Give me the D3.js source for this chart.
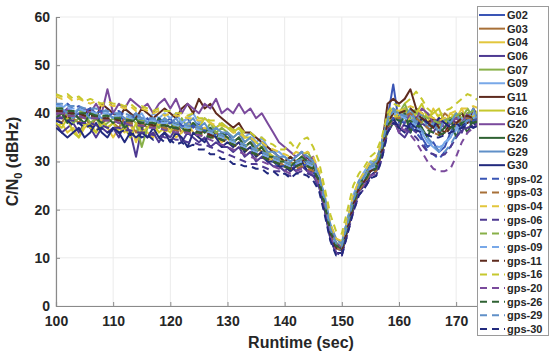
<!DOCTYPE html>
<html>
<head>
<meta charset="utf-8">
<script src="https://cdn.jsdelivr.net/npm/d3@7"></script>
<style>
html,body{margin:0;padding:0;background:#fff;}
svg{display:block;font-family:"Liberation Sans",Arial,sans-serif;}
</style>
</head>
<body>
<svg id="chart" width="550" height="359"></svg>
<script>
// ---- data ----
const times = d3.range(100, 175); // 100..174 s, one sample per second
const xTicks = [100, 110, 120, 130, 140, 150, 160, 170];
const yTicks = [0, 10, 20, 30, 40, 50, 60];

const G02 = [41,40,41,39,40,39,41,40,38,40, 39,40,38,39,40,38,39,37,39,38, 39,37,38,39,37,38,36,37,36,35, 36,34,35,33,34,32,33,31,31,30, 30,29,30,31,29,30,26,21,15,12, 12,18,22,25,27,29,28,33,39,46, 38,41,36,39,35,33,34,32,33,36, 38,37,39,38,40];
const G03 = [39,38,40,39,38,40,37,39,38,37, 38,37,39,38,36,38,37,39,37,38, 37,38,36,37,38,36,37,35,36,35, 35,34,35,33,34,33,32,32,30,30, 29,30,29,30,31,29,27,22,16,13, 12,16,21,24,26,29,30,32,38,40, 39,41,40,38,40,37,39,38,40,39, 37,38,39,40,38];
const G04 = [37,38,36,37,35,37,38,36,39,37, 35,37,36,38,34,37,36,35,38,36, 37,35,36,38,36,35,37,36,35,34, 35,33,34,32,33,31,32,31,30,29, 29,28,29,30,29,28,26,21,15,12, 13,17,21,25,26,28,29,33,37,39, 40,38,41,39,40,38,41,39,38,40, 39,41,38,40,39];
const G06 = [38,36,37,38,36,38,37,35,37,36, 37,35,38,36,31,37,35,36,34,36, 35,37,34,36,35,34,35,33,34,33, 33,32,33,31,32,30,31,30,29,29, 28,29,28,29,28,27,25,20,14,11, 11,16,20,24,25,27,28,32,37,39, 36,35,37,36,38,37,36,38,37,39, 38,36,39,37,38];
const G07 = [40,39,40,38,39,40,38,39,37,38, 39,38,37,39,38,33,37,38,37,39, 38,37,39,37,38,37,36,38,36,37, 36,35,36,34,35,33,34,32,31,31, 30,31,30,31,32,30,27,22,16,13, 13,18,22,26,27,30,30,34,40,41, 40,42,39,41,38,40,39,37,39,38, 40,39,41,39,40];
const G09 = [42,41,42,40,41,40,41,39,40,41, 40,39,41,40,39,40,38,40,39,40, 39,40,38,39,40,38,39,38,37,38, 37,36,37,35,36,34,35,33,32,32, 31,30,31,32,31,30,27,22,16,13, 13,18,23,26,28,30,29,34,39,41, 40,38,40,37,36,34,33,32,34,35, 37,39,38,40,39];
const G11 = [41,40,39,40,39,40,41,39,42,41, 40,39,41,40,39,41,40,39,40,41, 40,39,41,42,40,43,41,42,40,39, 38,37,38,36,36,35,34,33,32,31, 30,31,30,30,31,29,27,22,16,13, 12,17,22,25,27,29,30,33,42,43, 42,43,45,41,40,38,39,37,36,38, 39,40,38,41,39];
const G16 = [38,37,39,36,35,38,37,36,38,37, 38,36,37,35,38,36,37,38,36,37, 36,38,37,36,38,37,39,38,37,38, 37,36,37,35,35,34,33,32,31,30, 30,29,30,31,30,29,27,22,16,14, 13,17,22,25,27,29,30,33,38,40, 39,41,38,40,42,39,40,41,38,39, 40,38,40,39,41];
const G20 = [40,39,41,40,39,41,40,42,40,45, 40,42,41,43,42,41,42,40,42,43, 41,43,40,42,41,40,42,41,43,40, 41,40,42,40,41,39,40,38,36,34, 33,32,31,32,30,31,27,22,16,13, 12,17,21,25,26,28,29,32,37,39, 36,38,40,39,41,40,38,39,37,38, 39,38,40,38,39];
const G26 = [39,40,38,40,39,38,40,39,38,39, 38,39,37,38,39,37,38,37,39,38, 37,38,37,36,38,37,36,37,35,36, 35,34,35,33,34,32,33,31,31,30, 30,29,30,31,30,29,26,21,15,12, 12,17,21,25,27,29,29,33,36,38, 37,40,36,39,37,35,38,36,37,39, 35,38,36,39,37];
const G29 = [40,41,40,39,41,40,39,40,39,40, 39,40,39,38,40,39,38,39,38,39, 38,39,37,38,39,37,38,36,37,36, 36,35,36,34,35,33,34,32,32,31, 31,30,31,32,31,30,27,23,17,14, 13,18,22,26,27,29,30,34,39,41, 40,39,41,38,40,37,38,36,39,38, 40,38,39,41,38];
const G30 = [37,36,35,36,37,35,36,38,36,35, 37,36,34,36,35,36,35,37,35,36, 34,36,35,33,36,35,34,36,35,33, 34,33,34,32,33,31,32,30,30,29, 29,28,29,30,28,28,25,20,14,11, 11,16,20,24,25,27,28,32,37,39, 37,36,38,37,39,38,37,39,38,37, 38,37,39,38,37];

const gps02 = [42,41.5,42,41,41.5,40.5,41,40,40.5,39.5, 40,40.5,39.5,39,39.5,38.5,39,38,38.5,37.5, 38,38.5,37.5,37,37.5,36.5,36.5,35.5,35.5,34.5, 34.5,33.5,33.5,32.5,32.5,31.5,31.5,30.5,30,29, 29,28.5,29.5,29,29.5,28,26,21,15,12, 11.5,16,21,24,26,28,28.5,32,37,39, 38.5,38,37.5,36,34.5,32,31.5,30.5,32,33, 35,37,38,38.5,39];
const gps03 = [40,40,39.5,39.5,39.5,39,39,39,38.5,38.5, 38.5,38,38,38,37.5,37.5,37.5,37,37,37, 36.5,36.5,36,36,36,35.5,35.5,35,35,34.5, 34,33.5,33,32.5,32,31.5,31,30.5,30,29.5, 29,28.5,28.5,29,28.5,28,25.5,20.5,15,12, 11.5,16,20.5,24,25.5,27.5,28,31.5,37,39, 39,39.5,40,39,38,37,36,35.5,36,37, 38,38.5,39,38.5,39];
const gps04 = [43.5,43,43.5,42.5,43,42.5,42,42.5,41.5,42, 41.5,41.5,41,41.5,40.5,41,40.5,40,40.5,39.5, 40,39.5,39.5,39,39,38.5,38.5,38,37.5,37.5, 37,36,36,35,35,34,34,33,32.5,32, 31.5,31,32,31.5,32,31,28,23,17,14, 13.5,18,23,26,28,30,30.5,34,39,41, 40.5,41,41.5,41,40,39.5,39,38.5,39,40, 40.5,41,41,41.5,41];
const gps06 = [39,39,38.5,38.5,38,38,38,37.5,37.5,37, 37,37,36.5,36.5,36,36,36,35.5,35.5,35, 35,34.5,34.5,34,34,33.5,33.5,33,32.5,32, 31.5,31,30.5,30,29.5,29.5,29,28.5,28,28, 27.5,27,27.5,28,27.5,27,24.5,19.5,14,11, 10.5,15,19.5,23,24.5,26.5,27,30.5,36,38, 37.5,37,36,35,33.5,32,31.5,31,31.5,33, 35,36.5,37,37.5,38];
const gps07 = [41,41,40.5,40.5,40.5,40,40,40,39.5,39.5, 39.5,39,39,39,38.5,38.5,38.5,38,38,38, 37.5,37.5,37,37,37,36.5,36.5,36,35.5,35, 34.5,34,34,33.5,33,32.5,32,31.5,31,30.5, 30,29.5,30,30.5,30,29.5,27,22,16,13, 12.5,17,22,25,27,29,29.5,33,38.5,40.5, 40,40.5,41,40,39.5,39,38.5,38,38.5,39, 39.5,40,40,40.5,40];
const gps09 = [41.5,41.5,41,41,41,40.5,40.5,40,40,40, 39.5,39.5,39.5,39,39,39,38.5,38.5,38,38, 38,37.5,37.5,37,37,36.5,36,36,35.5,35, 34.5,34,33.5,33,32.5,32,31.5,31,30.5,30, 29.5,29,29.5,30,29.5,29,26.5,21.5,15.5,12.5, 12,16.5,21.5,24.5,26.5,28.5,29,32.5,38,40, 39.5,39,38.5,37.5,36,34.5,33.5,33,33.5,35, 36.5,38,38.5,39,39.5];
const gps11 = [40.5,40.5,40,40,40,39.5,39.5,39.5,39,39, 39,38.5,38.5,38.5,38,38,38,37.5,37.5,37.5, 37,37,36.5,36.5,36.5,36,36,35.5,35,34.5, 34,33.5,33,32.5,32,31.5,31,30.5,30,29.5, 29,28.5,29,29.5,29,28.5,26,21,15,12, 11.5,16,21,24.5,26,28,28.5,32,38,40, 40,40.5,41,40,39,38,37,36,35.5,37, 38,39,39.5,39,39.5];
const gps16 = [44,43.5,44,43,43.5,42.5,43,42.5,42,42.5, 42,42,41.5,42,41,41.5,41,40.5,41,40.5, 40.5,40,40,39.5,40,39,39,38.5,38.5,37.5, 37.5,36.5,37,36,36,35,35,34,33.5,32.5, 32.5,34,32.5,34.5,35,33,30,24.5,19,15.5, 15,20,25,27.5,29,31,32,35,40,42, 41.5,42,43,44.5,43,41,40,39.5,40.5,41, 42,43,44,43.5,42.5];
const gps20 = [40,40,39.5,39.5,39.5,39,39,39,38.5,38.5, 38.5,38,38,37.5,37.5,37.5,37,37,37,36.5, 36.5,36,36,36,35.5,35.5,35,34.5,34,33.5, 33,32.5,32,31.5,31,30.5,30,29.5,29,28.5, 28,27.5,28,28.5,28,27.5,25,20,14.5,11, 10.5,15,20,23.5,25,27,27.5,31,36.5,38, 37,36.5,35.5,34,32,30,28.5,28,28,28.5, 31,34,36,37,38];
const gps26 = [41,41,40.5,40.5,40,40,40,39.5,39.5,39.5, 39,39,38.5,38.5,38.5,38,38,38,37.5,37.5, 37,37,36.5,36.5,36,36,35.5,35,35,34.5, 34,33.5,33,32.5,32,31.5,31,30.5,30,29.5, 29,28.5,29,29.5,29,28.5,26,21,15.5,12.5, 12,16.5,21,24.5,26,28,28.5,32,37.5,39, 38.5,38,38.5,37.5,37,36.5,36,35.5,36,37, 37.5,38,38.5,38,38.5];
const gps29 = [42,42,41.5,41.5,41.5,41,41,41,40.5,40.5, 40,40,40,39.5,39.5,39,39,39,38.5,38.5, 38.5,38,38,37.5,37.5,37,37,36.5,36,35.5, 35,34.5,34,33.5,33,32.5,32,31.5,31,30.5, 30,29.5,30,30.5,30,29.5,27,22,16,13, 12.5,17,22,25,27,29,29.5,33,38.5,40.5, 40,39.5,39,38,36.5,35,33.5,32,32,33.5, 35.5,37.5,38.5,39,39.5];
const gps30 = [38.5,38,38.5,37.5,38,37,37.5,36.5,37,36, 36.5,36,36.5,35.5,36,35,35.5,34.5,35,34, 34.5,33.5,34,33,33.5,32.5,32.5,31.5,31.5,30.5, 30.5,29.5,29.5,29,29,28.5,28.5,27.5,28,27, 27.5,26.5,27.5,27.5,27,26,24,19,13.5,10.5, 10.5,15,19.5,23,24.5,26.5,27,30.5,36,38, 37.5,37.5,37,36.5,36,35.5,35,35,35.5,36, 36.5,37,37.5,37,37.5];

const seriesNames = ["G02","G03","G04","G06","G07","G09","G11","G16","G20","G26","G29","G30",
  "gps-02","gps-03","gps-04","gps-06","gps-07","gps-09","gps-11","gps-16","gps-20","gps-26","gps-29","gps-30"];
const seriesValues = [G02,G03,G04,G06,G07,G09,G11,G16,G20,G26,G29,G30,
  gps02,gps03,gps04,gps06,gps07,gps09,gps11,gps16,gps20,gps26,gps29,gps30];
const satColors = ["#3a55b5","#a87038","#e2c63c","#4e3a92","#88b048","#78a8e8","#5e2a1e","#c6c82e","#7a4a9c","#2f6233","#6090c8","#222a7e"];

// ---- layout ----
const svg = d3.select("#chart");
const plot = {left: 56, right: 479, top: 17, bottom: 306};
const x = d3.scaleLinear().domain([100, 174]).range([plot.left, plot.right]);
const y = d3.scaleLinear().domain([0, 60]).range([plot.bottom, plot.top]);
const textColor = "#262626";

// grid
const grid = svg.append("g");
grid.selectAll(".gx").data(xTicks).join("line")
  .attr("x1", d => x(d)).attr("x2", d => x(d))
  .attr("y1", plot.top).attr("y2", plot.bottom)
  .attr("stroke", "#ebebeb").attr("stroke-width", 1);
grid.selectAll(".gy").data(yTicks).join("line")
  .attr("x1", plot.left).attr("x2", plot.right)
  .attr("y1", d => y(d)).attr("y2", d => y(d))
  .attr("stroke", "#ebebeb").attr("stroke-width", 1);

// axes
const xAxis = d3.axisBottom(x).tickValues(xTicks).tickSize(-4).tickPadding(10).tickFormat(d3.format("d"));
const yAxis = d3.axisLeft(y).tickValues(yTicks).tickSize(-4).tickPadding(6).tickFormat(d3.format("d"));
const gx = svg.append("g").attr("transform", `translate(0,${plot.bottom})`).call(xAxis);
const gy = svg.append("g").attr("transform", `translate(${plot.left},0)`).call(yAxis);
[gx, gy].forEach(g => {
  g.select(".domain").attr("stroke", "#8a8a8a").attr("stroke-width", 1.2);
  g.selectAll(".tick line").attr("stroke", "#8a8a8a");
  g.selectAll(".tick text").attr("fill", textColor)
    .style("font-size", "14px").style("font-weight", "bold")
    .style("font-family", '"Liberation Sans", Arial, sans-serif');
});

// clip
svg.append("clipPath").attr("id", "clip").append("rect")
  .attr("x", plot.left).attr("y", plot.top)
  .attr("width", plot.right - plot.left).attr("height", plot.bottom - plot.top);

const series = seriesNames.map((name, i) => ({
  name, values: seriesValues[i], color: satColors[i % 12], dashed: i >= 12
}));

const line = d3.line().x((d, i) => x(times[i])).y(d => y(d));
svg.append("g").attr("clip-path", "url(#clip)")
  .selectAll("path").data(series).join("path")
  .attr("d", d => line(d.values))
  .attr("fill", "none")
  .attr("stroke", d => d.color)
  .attr("stroke-width", 2)
  .attr("stroke-linejoin", "round")
  .attr("stroke-dasharray", d => d.dashed ? "7,5" : null);

// axis labels
svg.append("text").attr("x", 301).attr("y", 348)
  .attr("text-anchor", "middle").attr("fill", textColor)
  .style("font-size", "16px").style("font-weight", "bold")
  .text("Runtime (sec)");
const yl = svg.append("text")
  .attr("transform", `translate(18,${(plot.top + plot.bottom) / 2}) rotate(-90)`)
  .attr("text-anchor", "middle").attr("fill", textColor)
  .style("font-size", "16px").style("font-weight", "bold");
yl.append("tspan").text("C/N");
yl.append("tspan").attr("dy", 4).style("font-size", "11px").text("0");
yl.append("tspan").attr("dy", -4).text(" (dBHz)");

// legend
const leg = svg.append("g");
leg.append("rect").attr("x", 477.5).attr("y", 6.5).attr("width", 71).attr("height", 329)
  .attr("fill", "#fff").attr("stroke", "#9a9a9a").attr("stroke-width", 1);
const ly = d3.scalePoint().domain(seriesNames).range([15, 329]);
const items = leg.selectAll(".it").data(series).join("g")
  .attr("transform", d => `translate(0,${ly(d.name)})`);
items.append("line").attr("x1", 479).attr("x2", 505).attr("y1", 0).attr("y2", 0)
  .attr("stroke", d => d.color).attr("stroke-width", 2)
  .attr("stroke-dasharray", d => d.dashed ? "7,5" : null)
  .attr("stroke-dashoffset", d => d.dashed ? -1 : null);
items.append("text").attr("x", 507).attr("y", 4)
  .attr("fill", textColor).style("font-size", "11px").style("font-weight", "bold")
  .text(d => d.name);
</script>
</body>
</html>
